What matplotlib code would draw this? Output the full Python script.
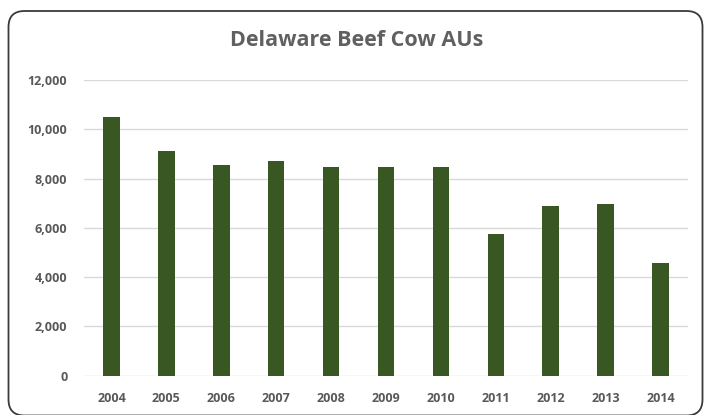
import matplotlib
matplotlib.use("Agg")
import matplotlib.pyplot as plt
from matplotlib.patches import FancyBboxPatch
from matplotlib.ticker import FuncFormatter

# Beef cow animal units by year
years = ["2004", "2005", "2006", "2007", "2008", "2009",
         "2010", "2011", "2012", "2013", "2014"]
cow_aus = [10500, 9130, 8550, 8710, 8460, 8460, 8460, 5740, 6890, 6970, 4590]
y_ticks = [0, 2000, 4000, 6000, 8000, 10000, 12000]

plt.rcParams['font.family'] = ['Open Sans', 'DejaVu Sans']

fig = plt.figure(figsize=(7.05, 4.15), dpi=100)
fig.patch.set_facecolor("white")

# rounded chart frame, drawn on a pixel-scaled background axes
bg = fig.add_axes([0, 0, 1, 1])
bg.set_xlim(0, 705)
bg.set_ylim(0, 415)
bg.axis("off")
frame = FancyBboxPatch((8.5, -0.5), 694, 404.5,
                       boxstyle="round,pad=0,rounding_size=16",
                       facecolor="white", edgecolor="#3a3a3a", linewidth=1.3)
bg.add_patch(frame)

ax = fig.add_axes([84 / 705, 1 - 375.7 / 415, 604 / 705, (375.7 - 80) / 415])
ax.set_facecolor("none")
x = range(len(years))
ax.bar(x, cow_aus, width=0.3, color="#385723", zorder=3)

ax.set_xlim(-0.5, len(years) - 0.5)
ax.set_ylim(0, 12000)
ax.set_yticks(y_ticks)
ax.yaxis.set_major_formatter(FuncFormatter(lambda v, p: f"{int(v):,}"))
ax.set_xticks(list(x))
ax.set_xticklabels(years)
ax.grid(axis="y", color="#d9d9d9", linewidth=1.0, zorder=0)
for s in ax.spines.values():
    s.set_visible(False)
ax.tick_params(axis="both", length=0, colors="#595959", labelsize=9)
ax.tick_params(axis="y", pad=12)
ax.tick_params(axis="x", pad=11.5)
for lbl in ax.get_xticklabels() + ax.get_yticklabels():
    lbl.set_fontweight("bold")

fig.text(357 / 705, 1 - 41 / 415, "Delaware Beef Cow AUs", ha="center", va="center",
         fontsize=15.5, fontweight="bold", color="#606060")

fig.savefig("out.png", dpi=100)
